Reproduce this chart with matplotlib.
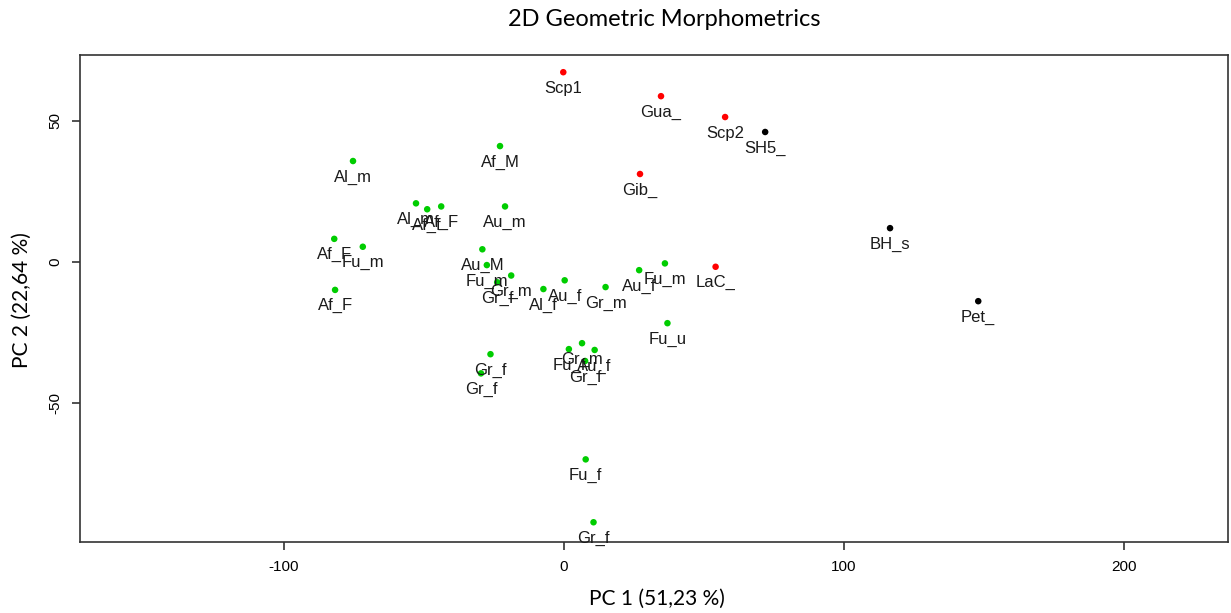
import matplotlib
matplotlib.use("Agg")
import matplotlib.pyplot as plt

# ---- data ----
labels = ["Scp1", "Gua_", "Scp2", "Gib_", "LaC_",
          "SH5_", "BH_s", "Pet_",
          "Al_m", "Af_M", "Al_m", "Af_f", "Af_F", "Au_m",
          "Af_F", "Fu_m", "Af_F",
          "Au_M", "Fu_m", "Gr_m", "Gr_f", "Al_f", "Au_f", "Gr_m", "Au_f",
          "Fu_m", "Fu_u",
          "Gr_f", "Gr_f", "Fu_f", "Gr_m", "Au_f", "Gr_f",
          "Fu_f", "Gr_f"]
pc1 = [-0.3, 34.6, 57.5, 27.1, 54.1,
       71.8, 116.4, 147.9,
       -75.4, -22.9, -52.9, -48.9, -43.9, -21.1,
       -82.1, -71.9, -81.8,
       -29.2, -27.6, -18.9, -23.9, -7.4, 0.2, 14.8, 26.8,
       36.0, 36.9,
       -26.3, -29.7, 1.7, 6.4, 10.9, 7.5,
       7.7, 10.5]
pc2 = [67.3, 58.8, 51.4, 31.2, -1.7,
       46.1, 12.0, -13.9,
       35.8, 41.1, 20.8, 18.7, 19.7, 19.7,
       8.2, 5.4, -9.9,
       4.5, -1.1, -4.8, -7.2, -9.6, -6.5, -8.9, -2.9,
       -0.5, -21.7,
       -32.7, -39.5, -30.9, -28.8, -31.2, -35.1,
       -70.0, -92.3]
groups = ["red"] * 5 + ["black"] * 3 + ["green"] * 27
group_colors = {"red": "#FF0000", "black": "#000000", "green": "#00CD00"}

title = "2D Geometric Morphometrics"
xlabel = "PC 1 (51,23 %)"
ylabel = "PC 2 (22,64 %)"
xticks = [-100, 0, 100, 200]
yticks = [-50, 0, 50]

# ---- figure ----
fig = plt.figure(figsize=(12.31, 6.13), dpi=100)
ax = fig.add_axes([80 / 1231, 1 - 542 / 613, (1228 - 80) / 1231, (542 - 55) / 613])

cols = [group_colors[g] for g in groups]
ax.scatter(pc1, pc2, s=22, c=cols, zorder=3, linewidths=0)
for lab, x, y in zip(labels, pc1, pc2):
    ax.annotate(lab, (x, y), xytext=(0, -16), textcoords="offset pixels",
                ha="center", va="center", fontsize=12, color="#1a1a1a",
                family="Liberation Sans", zorder=4)

ax.set_xlim(-172.9, 237.1)
ax.set_ylim(-99.3, 73.4)
ax.set_xticks(xticks)
ax.set_yticks(yticks)
ax.set_xticklabels([str(t) for t in xticks], family="Liberation Sans", fontsize=11)
ax.set_yticklabels([str(t) for t in yticks], family="Liberation Sans", fontsize=11,
                   rotation=90, va="center")
ax.tick_params(direction="out", length=6, width=1.2, color="#333333")
ax.tick_params(axis="x", pad=7)
ax.tick_params(axis="y", pad=7)
for sp in ax.spines.values():
    sp.set_linewidth(1.2)
    sp.set_color("#333333")

fig.text(664 / 1231, 1 - 20 / 613, title, ha="center", va="center",
         fontsize=17, family="Lato")
fig.text(657 / 1231, 1 - 599 / 613, xlabel, ha="center", va="center",
         fontsize=15, family="Lato")
fig.text(22 / 1231, 1 - 300 / 613, ylabel, ha="center", va="center",
         fontsize=15, family="Lato", rotation=90)

fig.savefig("out.png", dpi=100)
